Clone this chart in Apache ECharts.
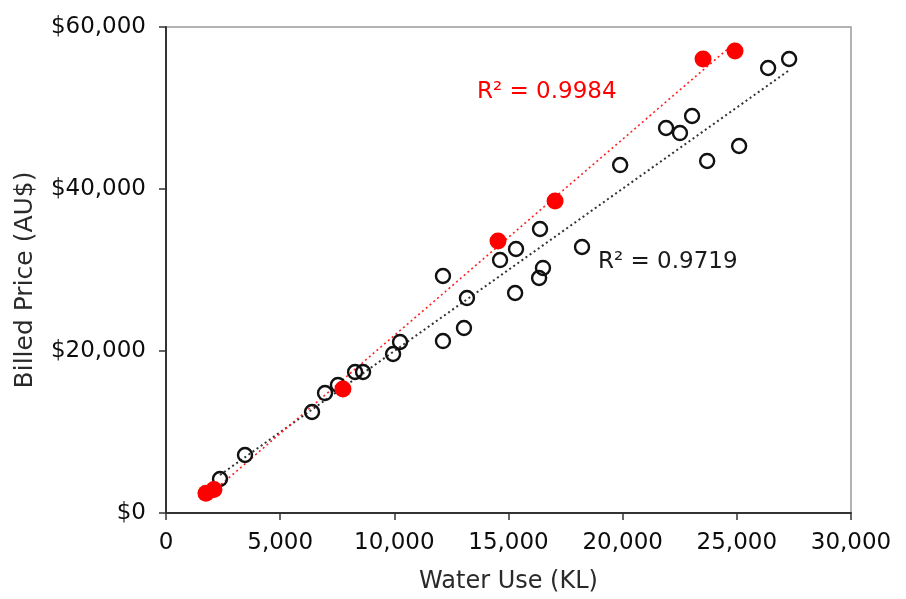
<!DOCTYPE html>
<html>
<head>
<meta charset="utf-8">
<script src="https://cdn.jsdelivr.net/npm/echarts@6/dist/echarts.min.js"></script>
<style>
  html, body { margin: 0; padding: 0; background: #fff; }
  #chart { width: 906px; height: 599px; }
</style>
</head>
<body>
<div id="chart"></div>
<script>
// Water use (KL) vs billed price (AU$) for each site
const openUse = [2365, 3460, 6395, 6965, 7530, 8280, 8630, 9945, 10250, 12130, 12130, 13050, 13180, 14630,
  15330, 15290, 16380, 16510, 16340, 18220, 19890, 21900, 22510, 23040, 23700, 25100, 26370, 27290];
const openPrice = [4200, 7160, 12470, 14810, 15800, 17410, 17410, 19630, 21110, 29260, 21230, 22840, 26540, 31230,
  32590, 27160, 35060, 30250, 29010, 32840, 42960, 47530, 46910, 49010, 43460, 45310, 54940, 56050];

const redUse = [1750, 2100, 7750, 14540, 17040, 23520, 24920];
const redPrice = [2450, 2900, 15300, 33580, 38520, 56050, 57040];

const xTicks = [0, 5000, 10000, 15000, 20000, 25000, 30000];
const yTicks = [0, 20000, 40000, 60000];

const redR2Text = 'R² = 0.9984';
const openR2Text = 'R² = 0.9719';

function fmt(v) {
  return String(v).replace(/\B(?=(\d{3})+(?!\d))/g, ',');
}

// least-squares trend line spanning the x range of a series
function trend(xs, ys) {
  const n = xs.length;
  let sx = 0, sy = 0, sxx = 0, sxy = 0;
  for (let i = 0; i < n; i++) { sx += xs[i]; sy += ys[i]; sxx += xs[i] * xs[i]; sxy += xs[i] * ys[i]; }
  const b = (n * sxy - sx * sy) / (n * sxx - sx * sx);
  const a = (sy - b * sx) / n;
  const lo = Math.min(...xs), hi = Math.max(...xs);
  return [[lo, a + b * lo], [hi, a + b * hi]];
}

const FONT = 'DejaVu Sans';
const chart = echarts.init(document.getElementById('chart'), null, { renderer: 'canvas' });

chart.setOption({
  animation: false,
  backgroundColor: '#fff',
  grid: { left: 166, right: 55, top: 27, bottom: 86, show: true, borderColor: '#9a9a9a', borderWidth: 1.5 },
  xAxis: {
    type: 'value', min: xTicks[0], max: xTicks[xTicks.length - 1], interval: xTicks[1] - xTicks[0],
    name: 'Water Use (KL)', nameLocation: 'middle', nameGap: 57,
    nameTextStyle: { fontFamily: FONT, fontSize: 24, color: '#2a2a2a' },
    axisLine: { onZero: false, lineStyle: { color: '#333', width: 2 } },
    axisTick: { inside: false, length: 7, lineStyle: { color: '#333', width: 1.5 } },
    axisLabel: { margin: 19, fontFamily: FONT, fontSize: 23, color: '#0d0d0d', formatter: v => fmt(v) },
    splitLine: { show: false }
  },
  yAxis: {
    type: 'value', min: yTicks[0], max: yTicks[yTicks.length - 1], interval: yTicks[1] - yTicks[0],
    name: 'Billed Price (AU$)', nameLocation: 'middle', nameGap: 128,
    nameTextStyle: { fontFamily: FONT, fontSize: 25, color: '#2a2a2a', padding: [0, 20, 0, 0] },
    axisLine: { onZero: false, lineStyle: { color: '#333', width: 2 } },
    axisTick: { inside: false, length: 7, lineStyle: { color: '#333', width: 1.5 } },
    axisLabel: { margin: 20, fontFamily: FONT, fontSize: 23, color: '#0d0d0d', formatter: v => '$' + fmt(v) },
    splitLine: { show: false }
  },
  series: [
    {
      type: 'line', data: trend(openUse, openPrice), symbol: 'none', z: 3,
      lineStyle: { color: '#333', width: 2, type: [2, 3] }
    },
    {
      type: 'line', data: trend(redUse, redPrice), symbol: 'none', z: 3,
      lineStyle: { color: '#ff2020', width: 1.6, type: [2, 3] }
    },
    {
      type: 'scatter', data: openUse.map((x, i) => [x, openPrice[i]]), symbol: 'circle', symbolSize: 14, z: 4,
      itemStyle: { color: 'rgba(255,255,255,0)', borderColor: '#111', borderWidth: 2.4, opacity: 1 }
    },
    {
      type: 'scatter', data: redUse.map((x, i) => [x, redPrice[i]]), symbol: 'circle', symbolSize: 17, z: 5,
      itemStyle: { color: '#ff0000', opacity: 1 }
    }
  ],
  graphic: [
    { type: 'text', left: 477, top: 81, z: 10,
      style: { text: redR2Text, fontFamily: FONT, fontSize: 23, fill: '#ff0000' } },
    { type: 'text', left: 598, top: 251, z: 10,
      style: { text: openR2Text, fontFamily: FONT, fontSize: 23, fill: '#1a1a1a' } }
  ]
});
</script>
</body>
</html>
